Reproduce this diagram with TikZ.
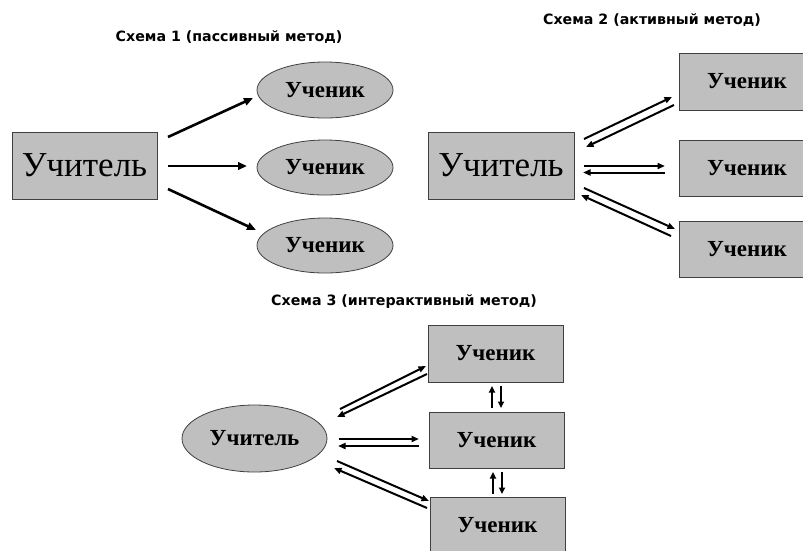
\documentclass[tikz,border=0pt]{standalone}
\usepackage{fontspec}
\setmainfont{Liberation Serif}
\newfontfamily\titlefont{DejaVu Sans}
\usetikzlibrary{shapes.geometric,arrows.meta}
\begin{document}
\begin{tikzpicture}[x=1pt,y=-1pt,
  box/.style={draw=black!75, fill=gray!50, line width=0.8pt, inner sep=0pt, rectangle},
  oval/.style={draw=black!75, fill=gray!50, line width=0.8pt, inner sep=0pt, ellipse},
  big/.style={font=\fontsize{35}{35}\selectfont},
  stud/.style={font=\fontsize{23}{23}\selectfont\bfseries},
  teach3/.style={font=\fontsize{23}{23}\selectfont\bfseries},
  ttl/.style={font=\titlefont\bfseries\fontsize{14.2}{14.2}\selectfont, inner sep=0pt},
  arrone/.style={line width=2.6pt, -{Triangle[length=9pt,width=7.5pt]}},
  arrtwo/.style={line width=2pt, -{Triangle[length=7.5pt,width=6pt]}},
  arrv/.style={line width=2.2pt, -{Triangle[length=6.5pt,width=6pt]}}]
\useasboundingbox (0,0) rectangle (803,550);

% titles
\node[ttl] (h1) at (229,37) {Схема 1 (пассивный метод)};
\node[ttl] (h2) at (652,20) {Схема 2 (активный метод)};
\node[ttl] (h3) at (404,302) {Схема 3 (интерактивный метод)};

% scheme 1
\node[box, big, minimum width=145pt, minimum height=67pt] (t1) at (84.5,165.5) {Учитель};
\node[oval, stud, minimum width=136pt, minimum height=56pt] (s1a) at (325,90) {Ученик};
\node[oval, stud, minimum width=136pt, minimum height=55pt] (s1b) at (325,167.5) {Ученик};
\node[oval, stud, minimum width=136pt, minimum height=55pt] (s1c) at (325,245.5) {Ученик};
\coordinate (a1s) at (168,137); \coordinate (a1e) at (253,98);
\coordinate (b1s) at (168,166); \coordinate (b1e) at (247,166);
\coordinate (c1s) at (168,189); \coordinate (c1e) at (256,230);
\draw[arrone] (a1s) -- (a1e);
\draw[arrone] (b1s) -- (b1e);
\draw[arrone] (c1s) -- (c1e);

% scheme 2
\node[box, big, minimum width=146pt, minimum height=67pt] (t2) at (501,165.5) {Учитель};
\node[box, stud, minimum width=136pt, minimum height=57pt] (s2a) at (747,81.5) {Ученик};
\node[box, stud, minimum width=136pt, minimum height=56pt] (s2b) at (747,168) {Ученик};
\node[box, stud, minimum width=136pt, minimum height=56pt] (s2c) at (747,249) {Ученик};
\coordinate (p2a1) at (584,139); \coordinate (p2a2) at (672,97);
\coordinate (p2a3) at (674,105); \coordinate (p2a4) at (586,147);
\coordinate (p2b1) at (584,166); \coordinate (p2b2) at (665,166);
\coordinate (p2b3) at (665,172.5); \coordinate (p2b4) at (583,172.5);
\coordinate (p2c1) at (584,188); \coordinate (p2c2) at (675,229);
\coordinate (p2c3) at (671,236); \coordinate (p2c4) at (581,195);
\draw[arrtwo] (p2a1) -- (p2a2);
\draw[arrtwo] (p2a3) -- (p2a4);
\draw[arrtwo] (p2b1) -- (p2b2);
\draw[arrtwo] (p2b3) -- (p2b4);
\draw[arrtwo] (p2c1) -- (p2c2);
\draw[arrtwo] (p2c3) -- (p2c4);

% scheme 3
\node[oval, teach3, minimum width=145pt, minimum height=67pt] (t3) at (254.5,438.5) {Учитель};
\node[box, stud, minimum width=135pt, minimum height=57pt] (s3a) at (495.5,353.5) {Ученик};
\node[box, stud, minimum width=135pt, minimum height=56pt] (s3b) at (496.5,440) {Ученик};
\node[box, stud, minimum width=135pt, minimum height=57pt] (s3c) at (497.5,525.5) {Ученик};
\coordinate (p3a1) at (340,409); \coordinate (p3a2) at (426,366);
\coordinate (p3a3) at (427,374); \coordinate (p3a4) at (337,417);
\coordinate (p3b1) at (339,439); \coordinate (p3b2) at (419,439);
\coordinate (p3b3) at (419,446); \coordinate (p3b4) at (338,446);
\coordinate (p3c1) at (337,461); \coordinate (p3c2) at (429,501);
\coordinate (p3c3) at (427,508); \coordinate (p3c4) at (334,468);
\draw[arrtwo] (p3a1) -- (p3a2);
\draw[arrtwo] (p3a3) -- (p3a4);
\draw[arrtwo] (p3b1) -- (p3b2);
\draw[arrtwo] (p3b3) -- (p3b4);
\draw[arrtwo] (p3c1) -- (p3c2);
\draw[arrtwo] (p3c3) -- (p3c4);
% vertical arrows between students
\coordinate (v1a) at (492,408); \coordinate (v1b) at (492,386);
\coordinate (v1c) at (501,386); \coordinate (v1d) at (501,408);
\coordinate (v2a) at (493,494); \coordinate (v2b) at (493,472);
\coordinate (v2c) at (502,472); \coordinate (v2d) at (502,494);
\draw[arrv] (v1a) -- (v1b);
\draw[arrv] (v1c) -- (v1d);
\draw[arrv] (v2a) -- (v2b);
\draw[arrv] (v2c) -- (v2d);
\end{tikzpicture}
\end{document}
